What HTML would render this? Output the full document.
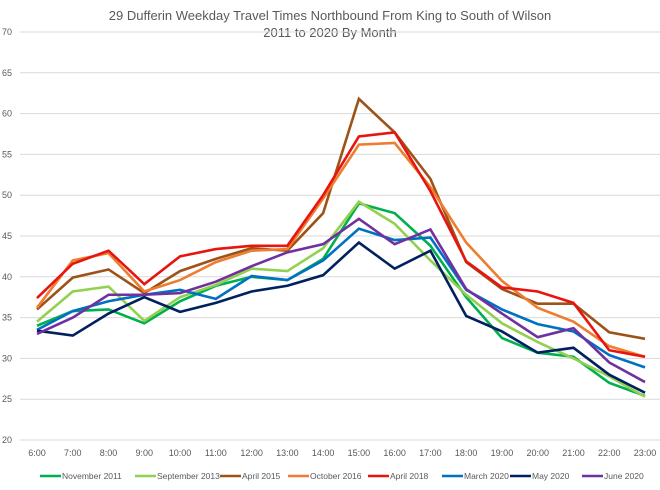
<!DOCTYPE html>
<html><head><meta charset="utf-8"><style>
body{margin:0;background:#fff;font-family:"Liberation Sans",sans-serif}
svg text{font-family:"Liberation Sans",sans-serif;fill:#595959}
</style></head><body>
<svg id="c" width="660" height="485">
<text x="330" y="20" text-anchor="middle" font-size="13">29 Dufferin Weekday Travel Times Northbound From King to South of Wilson</text>
<text x="330" y="37" text-anchor="middle" font-size="13">2011 to 2020 By Month</text>
<g id="grid"></g><g id="series"></g><g id="legend"></g>
</svg>
<script>
const categories=["6:00","7:00","8:00","9:00","10:00","11:00","12:00","13:00","14:00","15:00","16:00","17:00","18:00","19:00","20:00","21:00","22:00","23:00"];
const yTicks=[20,25,30,35,40,45,50,55,60,65,70];
const seriesNames=["November 2011","September 2013","April 2015","October 2016","April 2018","March 2020","May 2020","June 2020"];
const seriesColors=["#00b050","#92d050","#9c5317","#ed7d31","#e8140f","#0070c0","#002060","#7030a0"];
const nov2011=[34,35.8,36,34.3,37,38.9,40,39.6,42.2,49,47.8,43.8,37.5,32.5,30.7,30.2,27,25.4];
const sep2013=[34.5,38.2,38.8,34.6,37.5,39,41,40.7,43.5,49.2,46.5,42,37.8,34.3,32,30,27.8,25.3];
const apr2015=[36,39.9,40.9,38,40.7,42.2,43.5,43.2,47.8,61.8,57.7,52,41.8,38.5,36.7,36.7,33.2,32.4];
const oct2016=[36.2,42,42.9,38.2,39.6,41.8,43.2,43.4,49.6,56.2,56.4,51,44.2,39.5,36.2,34.5,31.5,30.2];
const apr2018=[37.4,41.6,43.2,39.1,42.5,43.4,43.8,43.8,50,57.2,57.7,50.5,41.9,38.7,38.2,36.8,31,30.2];
const mar2020=[33.5,35.8,37,37.8,38.4,37.3,40.1,39.6,42,45.9,44.5,44.8,38.4,36,34.2,33.3,30.4,28.9];
const may2020=[33.4,32.8,35.5,37.5,35.7,36.8,38.2,38.9,40.2,44.2,41,43.2,35.2,33.3,30.7,31.3,28,25.8];
const jun2020=[33,35,37.8,37.8,38,39.4,41.3,43,44,47.1,44,45.8,38.5,35.5,32.6,33.7,29.5,27.1];
const allSeries=[nov2011,sep2013,apr2015,oct2016,apr2018,mar2020,may2020,jun2020];
const NS="http://www.w3.org/2000/svg";
const x0=20,x1=662;
const xs=i=>37+i*(645-37)/(categories.length-1);
const ys=v=>440-(v-20)*(440-32)/50;
function mk(t,a,p){const e=document.createElementNS(NS,t);for(const k in a)e.setAttribute(k,a[k]);p.appendChild(e);return e;}
const grid=document.getElementById('grid');
yTicks.forEach(v=>{
 const l=mk('line',{x1:x0,x2:x1,y1:ys(v),y2:ys(v),stroke:'#d9d9d9','stroke-width':1},grid);
 
 
 const t=mk('text',{x:12,y:ys(v)+3,'text-anchor':'end','font-size':9},grid);t.textContent=v;
 
 
});
categories.forEach((c,i)=>{
 const t=mk('text',{x:xs(i),y:456,'text-anchor':'middle','font-size':9},grid);t.textContent=c;
 
 
});
const sg=document.getElementById('series');
allSeries.forEach((d,s)=>{
 const p=mk('polyline',{points:d.map((v,i)=>xs(i)+','+ys(v)).join(' '),fill:'none',stroke:seriesColors[s],'stroke-width':2.6,'stroke-linejoin':'miter'},sg);
 
 
});
const lg=document.getElementById('legend');
const lx=[40,135,220,288,368,442,510,582];
seriesNames.forEach((n,s)=>{
 const g=mk('g',{},lg);
 
 
 mk('line',{x1:lx[s],x2:lx[s]+21,y1:476,y2:476,stroke:seriesColors[s],'stroke-width':2.6},g);
 const t=mk('text',{x:lx[s]+22,y:479,'font-size':8.5},g);t.textContent=n;
});
</script>
</body></html>
